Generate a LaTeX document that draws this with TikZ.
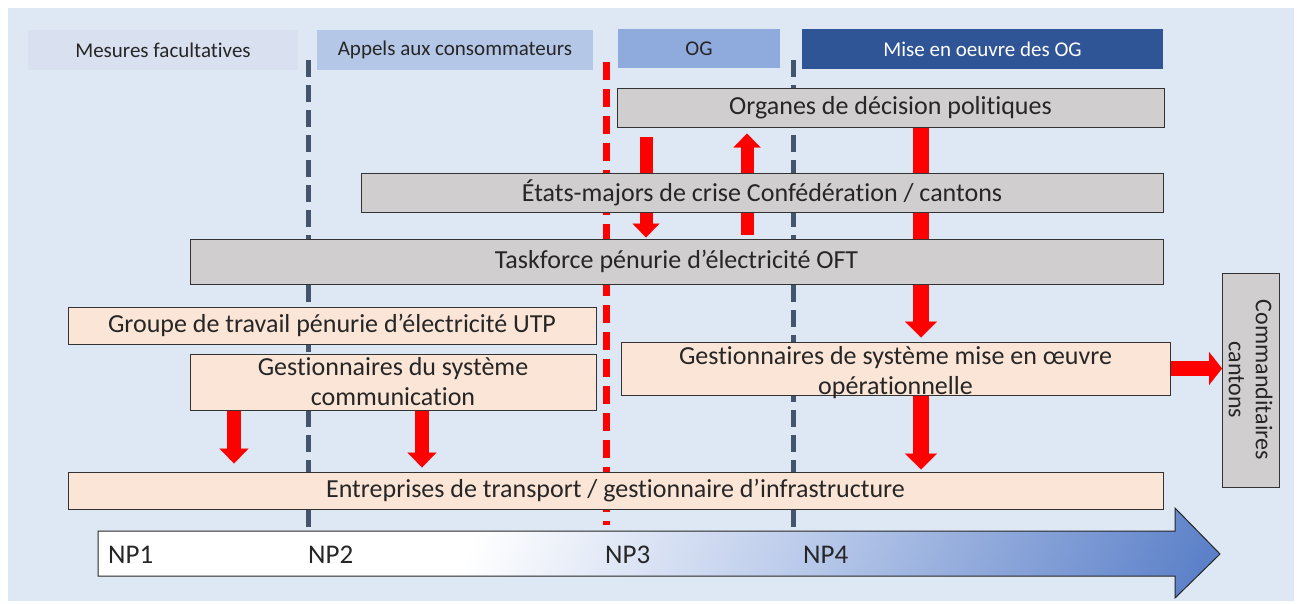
\documentclass[tikz,border=0pt]{standalone}
\usepackage{fontspec}
\setmainfont{Carlito}[Ligatures={NoCommon}]
\usetikzlibrary{arrows.meta,calc}
\definecolor{bgblue}{HTML}{DEE8F4}
\definecolor{hdra}{HTML}{D9E0EF}
\definecolor{hdrb}{HTML}{B4C7E7}
\definecolor{hdrc}{HTML}{8FAADC}
\definecolor{hdrd}{HTML}{2F5597}
\definecolor{greybox}{HTML}{D0CECE}
\definecolor{peach}{HTML}{FBE5D6}
\definecolor{slate}{HTML}{44546A}
\definecolor{txt}{HTML}{262626}
\definecolor{npmid}{HTML}{BFCEEC}
\definecolor{npblue}{HTML}{5A7FC8}
\definecolor{redarrow}{HTML}{FF0000}
\pgfdeclarelayer{back}
\pgfdeclarelayer{mid}
\pgfsetlayers{back,mid,main}
\pgfdeclarehorizontalshading{npgrad}{100bp}{color(0bp)=(white); color(39bp)=(white); color(57bp)=(npmid); color(82bp)=(npblue); color(100bp)=(npblue)}
\begin{document}
\begin{tikzpicture}[x=1pt,y=-1pt,
  hdr/.style={inner sep=0pt, text=txt, font=\fontsize{21}{24}\selectfont},
  gbox/.style={draw=black!80, line width=1pt, fill=greybox, inner sep=0pt, text=txt, font=\fontsize{26}{30}\selectfont, align=center},
  pbox/.style={draw=black!80, line width=1pt, fill=peach, inner sep=0pt, text=txt, font=\fontsize{26}{30}\selectfont, align=center},
  boxtext/.style={inner sep=0pt, text=txt, font=\fontsize{26}{30}\selectfont, align=center},
  dashgrey/.style={draw=slate, line width=5pt, dash pattern=on 17pt off 8pt},
  dashred/.style={draw=redarrow, line width=7pt, dash pattern=on 18pt off 9pt},
  arrS/.style={draw=redarrow, line width=13pt, -{Triangle[width=27pt,length=14pt,line width=0.1pt]}},
  arrM/.style={draw=redarrow, line width=14.5pt, -{Triangle[width=29pt,length=15pt,line width=0.1pt]}},
  arrL/.style={draw=redarrow, line width=16pt, -{Triangle[width=32pt,length=16pt,line width=0.1pt]}},
  nplabel/.style={inner sep=0pt, text=txt, font=\fontsize{27}{30}\selectfont, anchor=base west}
]
\useasboundingbox (0,0) rectangle (1297,603);
\begin{pgfonlayer}{back}
  \fill[bgblue] (8,8) rectangle (1294,601);
\end{pgfonlayer}

% header row
\node[hdr, fill=hdra, minimum width=270pt, minimum height=40pt] (h1) at (163,50) {Mesures facultatives};
\node[hdr, fill=hdrb, minimum width=276pt, minimum height=40pt] (h2) at (455,50) {Appels aux consommateurs};
\node[hdr, fill=hdrc, minimum width=162pt, minimum height=39pt] (h3) at (699,48.5) {OG};
\node[hdr, fill=hdrd, text=white, minimum width=361pt, minimum height=40pt] (h4) at (982.5,49) {Mise en oeuvre des OG};

% boxes
\node[gbox, minimum width=547pt, minimum height=39pt] (org) at (890.5,107.5) {Organes de décision politiques};
\node[gbox, minimum width=802pt, minimum height=39pt] (em) at (762,192.5) {États-majors de crise Confédération / cantons};
\node[gbox, minimum width=973pt, minimum height=45pt] (tf) at (676.5,261.5) {Taskforce pénurie d’électricité OFT};
\node[pbox, minimum width=528pt, minimum height=37pt] (grp) at (332,325.5) {Groupe de travail pénurie d’électricité UTP};
\node[pbox, minimum width=406pt, minimum height=56pt] (gsc) at (393,382) {Gestionnaires du système\\communication};
\node[pbox, minimum width=549pt, minimum height=53pt] (gso) at (895.5,368.5) {};
\node[boxtext] (gsot) at ([yshift=-4pt]gso.center) {Gestionnaires de système mise en œuvre\\opérationnelle};
\node[pbox, minimum width=1095pt, minimum height=37pt] (ent) at (615.5,490.5) {Entreprises de transport / gestionnaire d’infrastructure};
\node[gbox, rotate=-90, minimum width=214pt, minimum height=57pt, font=\fontsize{24}{27}\selectfont] (com) at (1250.5,380) {Commanditaires\\cantons};

% x positions of vertical connectors
\coordinate (xa) at (646,0);
\coordinate (xb) at (747,0);
\coordinate (xc) at (921,0);
\coordinate (xd) at (234,0);
\coordinate (xe) at (422,0);
\coordinate (xf) at (1222,0);

\begin{pgfonlayer}{mid}
  % dashed phase lines
  \draw[dashgrey] (308,60) -- (308,528);
  \draw[dashred] (606,62) -- (606,525);
  \draw[dashgrey] (793,60) -- (793,528);
  % red connectors
  \draw[arrS] ([yshift=-9pt]org.south -| xa) -- ([yshift=1pt]tf.north -| xa);
  \draw[arrS] ([yshift=4pt]tf.north -| xb) -- ([yshift=-6pt]org.south -| xb);
  \draw[arrL] (org.south -| xc) -- ([yshift=4pt]gso.north -| xc);
  \draw[arrL] (gso.south -| xc) -- ([yshift=2pt]ent.north -| xc);
  \draw[arrM] (gsc.south -| xd) -- ([yshift=8pt]ent.north -| xd);
  \draw[arrM] (gsc.south -| xe) -- ([yshift=4pt]ent.north -| xe);
\end{pgfonlayer}
\draw[draw=redarrow, line width=15pt, -{Triangle[width=33pt,length=13pt,line width=0.1pt]}] (gso.east) -- (gso.east -| xf);

% timeline arrow
\path[shading=npgrad, shading angle=-24, draw=black!85, line width=1pt]
  (98,531) -- (1175,531) -- (1175,508) -- (1220,554) -- (1175,598) -- (1175,576) -- (98,576) -- cycle;
\node[nplabel] (np1) at (108,563) {NP1};
\node[nplabel] (np2) at (308,563) {NP2};
\node[nplabel] (np3) at (605,563) {NP3};
\node[nplabel] (np4) at (803,563) {NP4};
\end{tikzpicture}
\end{document}
